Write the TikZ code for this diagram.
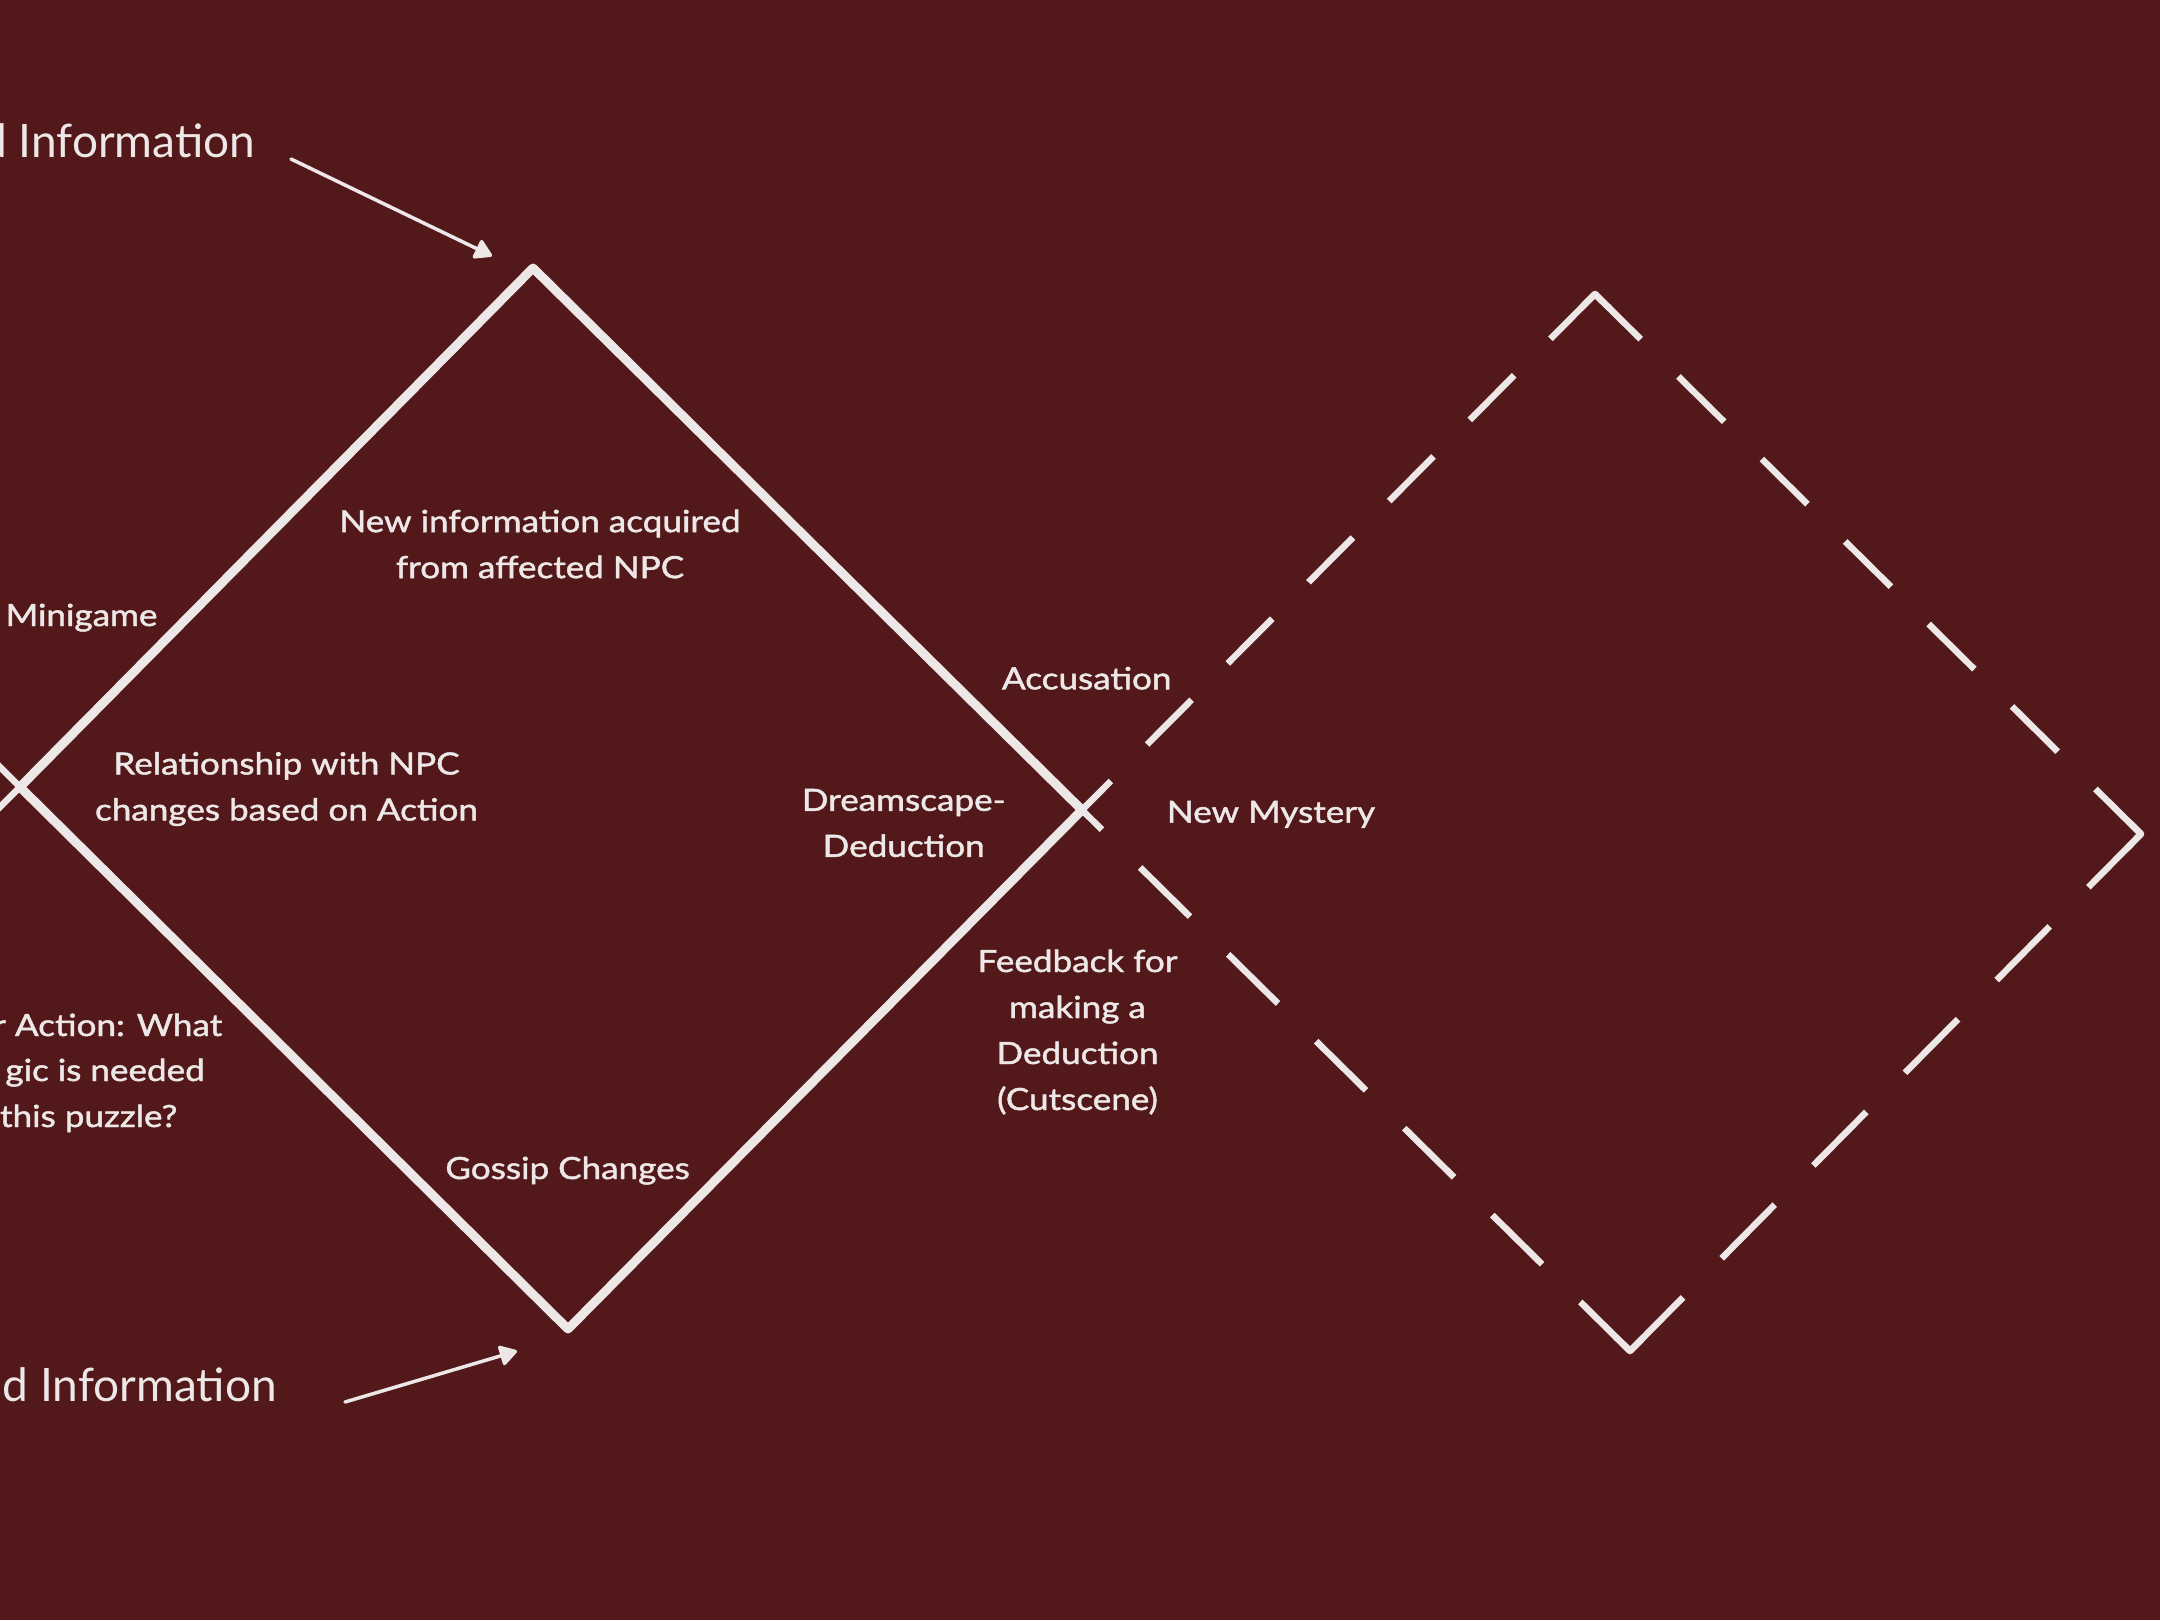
\documentclass[tikz,border=0pt]{standalone}
\usepackage{fontspec}
\setmainfont{Lato}
\newfontfamily\labelfont[FakeStretch=1.15,FakeBold=1.5]{Lato}
\usetikzlibrary{arrows.meta,calc}
\definecolor{bg}{HTML}{52181A}
\definecolor{fg}{HTML}{EDE8E7}
\begin{document}
\begin{tikzpicture}[x=1pt,y=-1pt,
  txt/.style={text=fg,font=\labelfont\fontsize{30.5}{46}\selectfont,align=center,inner sep=0pt},
  bigtxt/.style={text=fg,font=\fontsize{46}{55}\selectfont,inner sep=0pt},
  solidline/.style={draw=fg,line width=9pt,line join=round},
  dline/.style={draw=fg,line width=6.5pt},
  corner/.style={draw=fg,line width=6.5pt,line join=round},
  arr/.style={draw=fg,line width=3.5pt,line cap=round,-{Triangle[length=19pt,width=22pt,round]}}]
\useasboundingbox (0,0) rectangle (2160,1620);
\fill[bg] (0,0) rectangle (2160,1620);

% solid diamond
\coordinate (T) at (533,268);
\coordinate (R) at (1082,810);
\coordinate (B) at (568,1329);
\coordinate (L) at (20,787);
\draw[solidline] (T) -- (R) -- (B) -- (L) -- cycle;

% pieces of a diamond off the left edge
\coordinate (Lup) at (-40,727);
\coordinate (Ldn) at (-40,847);
\draw[dline] (L) -- (Lup);
\draw[dline] (L) -- (Ldn);

% dashed diamond
\coordinate (T2) at (1595,294);
\coordinate (R2) at (2141,834);
\coordinate (B2) at (1630,1351);
\draw[dline,dash pattern=on 63pt off 51.4pt,dash phase=22pt] (R) -- (T2);
\draw[dline,dash pattern=on 70pt off 53.7pt,dash phase=42pt] (R) -- (B2);
\draw[dline,dash pattern=on 64.3pt off 53pt] (T2) -- (R2);
\draw[dline,dash pattern=on 75.4pt off 55pt] (B2) -- (R2);
\draw[corner] ($(T2)!20pt!(R)$) -- (T2) -- ($(T2)!20pt!(R2)$);
\draw[corner] ($(R2)!20pt!(T2)$) -- (R2) -- ($(R2)!20pt!(B2)$);
\draw[corner] ($(B2)!20pt!(R)$) -- (B2) -- ($(B2)!20pt!(R2)$);

% texts
\node[bigtxt,anchor=base east] (topinfo) at (255.5,157.5) {d Information};
\node[bigtxt,anchor=base east] (botinfo) at (277,1401) {d Information};
\node[txt] (newinfo) at (540,544) {New information acquired\\from affected NPC};
\node[txt,anchor=base west] (mini) at (5.5,626) {Minigame};
\node[txt] (rel) at (286.5,789) {Relationship with NPC\\changes based on Action};
\node[txt] (dream) at (903.7,823) {Dreamscape-\\Deduction};
\node[txt,anchor=base] (acc) at (1086.7,689.3) {Accusation};
\node[txt,anchor=base] (myst) at (1271,822.7) {New Mystery};
\node[txt] (feed) at (1077.5,1032) {Feedback for\\making a\\Deduction\\(Cutscene)};
\node[txt,anchor=base] (gossip) at (567.6,1179) {Gossip Changes};
\node[txt,anchor=base west] (pa1) at (-7,1036) {r Action: What};
\node[txt,anchor=base east] (pa2) at (205,1081) {gic is needed};
\node[txt,anchor=base east] (pa3) at (177.5,1127) {this puzzle?};

% arrows
\coordinate (a1s) at (291,159);
\coordinate (a1e) at (492,256);
\coordinate (a2s) at (345,1402);
\coordinate (a2e) at (517,1351);
\draw[arr] (a1s) -- (a1e);
\draw[arr] (a2s) -- (a2e);
\end{tikzpicture}
\end{document}
